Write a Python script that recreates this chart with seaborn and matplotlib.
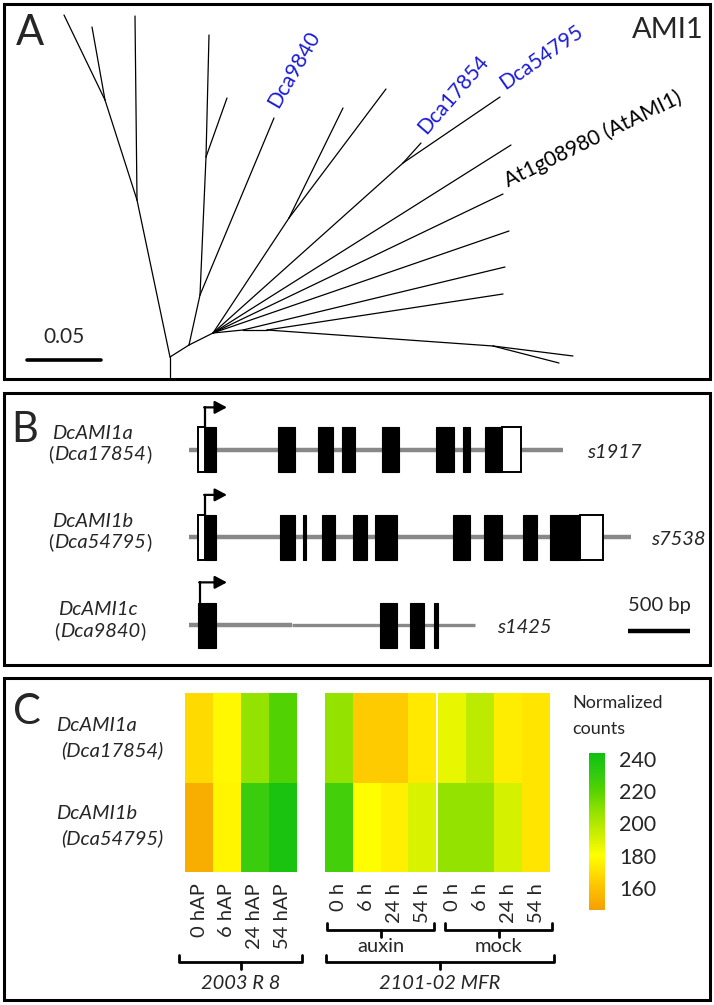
import matplotlib
matplotlib.use("Agg")
import matplotlib.pyplot as plt
from matplotlib.colors import LinearSegmentedColormap
from matplotlib.patches import Rectangle
import numpy as np
import pandas as pd
import seaborn as sns

W, H = 714, 1005

# ---- panel A: unrooted tree, node layout (px)
edge_x1 = [170, 170, 137, 137, 105, 105, 170, 189, 200, 206, 206, 200, 189, 213, 289, 289,
           213, 403, 403, 213, 213, 213, 213, 243, 243, 267, 267, 493, 493]
edge_y1 = [357, 357, 200, 200, 100, 100, 357, 345, 295, 157, 157, 295, 345, 333, 218, 218,
           333, 163, 163, 333, 333, 333, 333, 330, 330, 330, 330, 346, 346]
edge_x2 = [170, 137, 135, 105, 64, 92, 189, 200, 206, 209, 227, 274, 213, 289, 343, 386,
           403, 421, 500, 511, 503, 509, 243, 505, 267, 503, 493, 573, 559]
edge_y2 = [377, 200, 16, 100, 15, 27, 345, 295, 157, 35, 98, 118, 333, 218, 108, 89,
           163, 143, 97, 145, 194, 231, 330, 267, 330, 294, 346, 356, 363]
tip_names = ["Dca9840", "Dca17854", "Dca54795", "At1g08980 (AtAMI1)"]
tip_x = [274, 421, 500, 503]
tip_y = [118, 143, 97, 194]
tip_angle = [60, 49, 35, 26]
tip_color = ["#1c1cd8", "#1c1cd8", "#1c1cd8", "black"]
tree_scale = 0.05
tree_scale_px = 74

# ---- panel B: gene models (bp)
gene_names = ["DcAMI1a", "DcAMI1b", "DcAMI1c"]
gene_ids = ["Dca17854", "Dca54795", "Dca9840"]
scaffolds = ["s1917", "s7538", "s1425"]
gene_len = [3015, 3565, 2305]
utr5 = [(70, 130), (70, 130), None]
utr3 = [(2525, 2675), (3150, 3335), None]
cds_a = [(130, 220), (720, 855), (1040, 1160), (1235, 1340), (1555, 1695),
         (1990, 2135), (2210, 2265), (2385, 2525)]
cds_b = [(130, 220), (735, 855), (920, 945), (1070, 1175), (1320, 1435), (1500, 1675),
         (2130, 2265), (2380, 2525), (2690, 2805), (2910, 3150)]
cds_c = [(70, 220), (1540, 1675), (1780, 1895), (1975, 2010)]
tss = [130, 130, 90]
bp_scale = 500

# ---- panel C: normalized counts
rows = ["DcAMI1a", "DcAMI1b"]
r8_cols = ["0 hAP", "6 hAP", "24 hAP", "54 hAP"]
r8_a = [168, 178, 207, 222]
r8_b = [152, 177, 228, 240]
mfr_cols = ["0 h", "6 h", "24 h", "54 h"]
auxin_a = [207, 163, 163, 173]
auxin_b = [226, 180, 175, 190]
mock_a = [186, 197, 174, 172]
mock_b = [207, 207, 191, 172]
cbar_ticks = [160, 180, 200, 220, 240]

sns.set_theme(style="white")
plt.rcParams["font.family"] = ["Lato", "DejaVu Sans"]

fig = plt.figure(figsize=(W / 100, H / 100), dpi=100)


def box(x0, y0, x1, y1):
    return [x0 / W, 1 - y1 / H, (x1 - x0) / W, (y1 - y0) / H]


def ftext(x, y, s, **kw):
    return ov.text(x, y, s, **kw)


# overlay for frames, brackets and free labels
ov = fig.add_axes([0, 0, 1, 1], zorder=5)
ov.set_xlim(0, W)
ov.set_ylim(H, 0)
ov.axis("off")
ov.patch.set_alpha(0)
for (x0, y0, x1, y1) in [(4, 4, 710, 379), (4, 393, 710, 665), (4, 678, 710, 1000)]:
    ov.add_patch(Rectangle((x0, y0), x1 - x0, y1 - y0, fill=False, ec="black", lw=2.2))

# ---------------- A
ax_a = fig.add_axes(box(4, 4, 710, 379))
ax_a.set_xlim(4, 710)
ax_a.set_ylim(379, 4)
ax_a.axis("off")
for x1, y1, x2, y2 in zip(edge_x1, edge_y1, edge_x2, edge_y2):
    ax_a.plot([x1, x2], [y1, y2], color="black", lw=0.9, solid_capstyle="round")
for name, x, y, ang, col in zip(tip_names, tip_x, tip_y, tip_angle, tip_color):
    r = np.deg2rad(ang)
    ax_a.text(x + 5 * np.cos(r) + 6 * np.sin(r), y - 5 * np.sin(r) + 6 * np.cos(r) - 6,
              name, rotation=ang, rotation_mode="anchor", ha="left", va="bottom",
              fontsize=15, color=col)
ax_a.plot([27, 27 + tree_scale_px], [360, 360], color="black", lw=2.6)
ax_a.text(64, 347, f"{tree_scale}", ha="center", va="bottom", fontsize=15)
ftext(30, 33, "A", fontsize=30, ha="center", va="center")
ftext(704, 30, "AMI1", fontsize=21, ha="right", va="center")

# ---------------- B
bp_per_px = bp_scale / 62
ax_b = fig.add_axes(box(4, 393, 710, 665))
ax_b.set_xlim((4 - 189) * bp_per_px, (710 - 189) * bp_per_px)
ax_b.set_ylim(2 + 40 / 87.5, -57 / 87.5)
ax_b.axis("off")
hh = 22.5 / 87.5
for i, (L, cds) in enumerate(zip(gene_len, [cds_a, cds_b, cds_c])):
    if i < 2:
        ax_b.plot([0, L], [i, i], color="#888888", lw=3.2, solid_capstyle="butt", zorder=1)
    else:
        ax_b.plot([0, 830], [i, i], color="#888888", lw=3.2, solid_capstyle="butt", zorder=1)
        ax_b.plot([830, L], [i, i], color="#888888", lw=2.4, solid_capstyle="butt", zorder=1)
    for s, e in cds:
        ax_b.add_patch(Rectangle((s, i - hh), e - s, 2 * hh, fc="black", ec="black", lw=0.8, zorder=2))
    for u in (utr5[i], utr3[i]):
        if u:
            ax_b.add_patch(Rectangle((u[0], i - hh), u[1] - u[0], 2 * hh, fc="white",
                                     ec="black", lw=1.4, zorder=2))
    top = i - hh
    ax_b.plot([tss[i], tss[i]], [top, top - 0.23], color="black", lw=1.6, zorder=3)
    ax_b.annotate("", xy=(306, top - 0.23), xytext=(tss[i] - 8, top - 0.23),
                  arrowprops=dict(arrowstyle="-|>,head_length=0.6,head_width=0.32",
                                  color="black", lw=1.6, shrinkA=0, shrinkB=0), zorder=3)
ax_b.plot([(628 - 189) * bp_per_px, (628 - 189) * bp_per_px + bp_scale], [2.07, 2.07],
          color="black", lw=3.2, solid_capstyle="butt")

ftext(25, 430, "B", fontsize=30, ha="center", va="center")
label_y = [(433, 460), (521, 548), (609, 637)]
label_x = [48, 48, 54]
for name, gid, (y1, y2), x in zip(gene_names, gene_ids, label_y, label_x):
    ftext(x + 4, y1, name, fontsize=14.5, style="italic", ha="left", va="center")
    t1 = ftext(x, y2, "(", fontsize=14.5, ha="left", va="baseline")
    t2 = ov.annotate(gid, xy=(1, 0), xycoords=t1, xytext=(0.5, 0), textcoords="offset points",
                     fontsize=14.5, style="italic", ha="left", va="bottom")
    ov.annotate(")", xy=(1, 0), xycoords=t2, xytext=(0.5, 0), textcoords="offset points",
                fontsize=14.5, ha="left", va="bottom")
for s, x, y in zip(scaffolds, [587, 651, 497], [452, 539, 627]):
    ftext(x, y, s, fontsize=14.5, style="italic", ha="left", va="center")
ftext(659, 605, f"{bp_scale} bp", fontsize=14.5, ha="center", va="center")

# ---------------- C
cmap = LinearSegmentedColormap.from_list(
    "ami", [(0.0, "#f5a000"), (0.143, "#fcc200"), (0.245, "#ffe000"), (0.347, "#ffff00"),
            (0.449, "#d8f200"), (0.551, "#b0e800"), (0.653, "#88e000"), (0.755, "#58d400"),
            (0.857, "#34cc10"), (1.0, "#10c010")])
vmin, vmax = 146, 244
panels = [
    (pd.DataFrame([r8_a, r8_b], index=rows, columns=r8_cols), (185, 693, 297, 872)),
    (pd.DataFrame([auxin_a, auxin_b], index=rows, columns=mfr_cols), (325, 693, 436, 872)),
    (pd.DataFrame([mock_a, mock_b], index=rows, columns=mfr_cols), (438, 693, 550, 872)),
]
cax = fig.add_axes(box(589, 753, 605, 910))
for k, (df, b) in enumerate(panels):
    ax = fig.add_axes(box(*b))
    sns.heatmap(df, ax=ax, cmap=cmap, vmin=vmin, vmax=vmax, cbar=(k == 0),
                cbar_ax=cax if k == 0 else None, yticklabels=False, linewidths=0)
    ax.set_xticklabels(df.columns, rotation=90, fontsize=14.5)
    ax.tick_params(axis="x", length=0, pad=8)
    ax.set_xlabel("")
    ax.set_ylabel("")
cax.set_yticks(cbar_ticks)
cax.tick_params(axis="y", length=0, pad=10, labelsize=15.5)
cax.set_frame_on(False)

ftext(27, 712, "C", fontsize=30, ha="center", va="center")
for (y1, y2), name, gid in zip([(725, 750), (813, 838)], rows, gene_ids[:2]):
    ftext(56, y1, name, fontsize=14.5, style="italic", ha="left", va="center")
    ftext(61, y2, f"({gid})", fontsize=14.5, style="italic", ha="left", va="center")
ftext(572, 703, "Normalized", fontsize=13, ha="left", va="center")
ftext(572, 729, "counts", fontsize=13, ha="left", va="center")


def bracket(x0, x1, y, label, ty, italic=False):
    xc = (x0 + x1) / 2
    ov.plot([x0, x0, x1, x1], [y - 7, y, y, y - 7], color="black", lw=2)
    ov.plot([xc, xc], [y, y + 7], color="black", lw=2)
    ov.text(xc, ty, label, ha="center", va="center", fontsize=14.5,
            style="italic" if italic else "normal")


bracket(327, 434, 930, "auxin", 946)
bracket(445, 552, 930, "mock", 946)
bracket(179, 302, 962, "2003 R 8", 983, italic=True)
bracket(326, 554, 962, "2101-02 MFR", 983, italic=True)

fig.savefig("out.png", dpi=100)
